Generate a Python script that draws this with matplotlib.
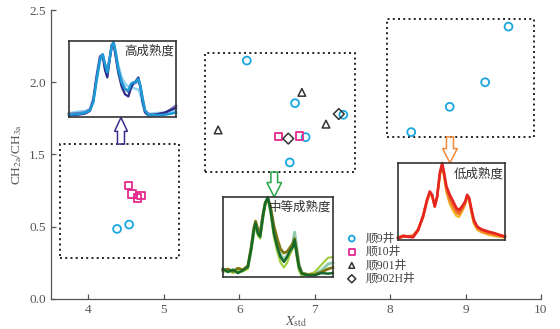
import numpy as np
import matplotlib
matplotlib.use("Agg")
import matplotlib.pyplot as plt
from matplotlib.patches import Rectangle, FancyArrow

plt.rcParams['font.family'] = ['Liberation Serif', 'Noto Sans CJK SC']
plt.rcParams['mathtext.fontset'] = 'stix'

# --- scatter data (X_std, CH2a/CH3a) ---
s9_x = [4.38, 4.54, 6.10, 6.74, 6.88, 6.67, 7.38, 8.28, 8.79, 9.26, 9.57]
s9_y = [0.485, 0.53, 2.15, 1.855, 1.62, 1.39, 1.775, 1.655, 1.83, 2.00, 2.385]
s10_x = [4.53, 4.58, 4.65, 4.70, 6.52, 6.80]
s10_y = [1.07, 0.955, 0.90, 0.93, 1.625, 1.63]
s901_x = [5.72, 6.83, 7.15]
s901_y = [1.67, 1.93, 1.71]
s902_x = [6.65, 7.32]
s902_y = [1.61, 1.78]

ytick_vals = [0.0, 0.5, 1.5, 2.0, 2.5]
ytick_labels = ['0.0', '0.5', '1.5', '2.0', '2.5']
xtick_vals = [4, 5, 6, 7, 8, 9, 10]

# --- inset spectra (normalised position, normalised intensity) ---
hi_x = [0, 0.087, 0.150, 0.196, 0.227, 0.259, 0.290, 0.315, 0.336, 0.358, 0.377, 0.399, 0.417, 0.436,
        0.461, 0.492, 0.523, 0.555, 0.579, 0.601, 0.623, 0.648, 0.667, 0.688, 0.710, 0.741, 0.804, 0.897, 1.0]
hi_blue = [0.03, 0.039, 0.057, 0.087, 0.196, 0.50, 0.761, 0.826, 0.696, 0.587, 0.739, 0.935, 0.991, 0.848,
           0.630, 0.457, 0.370, 0.348, 0.435, 0.457, 0.457, 0.50, 0.413, 0.239, 0.087, 0.030, 0.022, 0.030, 0.057]
hi_navy = [0.02, 0.03, 0.045, 0.08, 0.21, 0.52, 0.78, 0.80, 0.62, 0.52, 0.72, 0.95, 0.97, 0.80,
           0.58, 0.40, 0.30, 0.27, 0.38, 0.44, 0.47, 0.52, 0.40, 0.20, 0.06, 0.02, 0.03, 0.06, 0.12]
hi_purple = [0.04, 0.05, 0.06, 0.10, 0.24, 0.55, 0.80, 0.82, 0.68, 0.60, 0.75, 0.93, 0.97, 0.82,
             0.62, 0.46, 0.37, 0.33, 0.41, 0.44, 0.45, 0.48, 0.40, 0.24, 0.09, 0.04, 0.03, 0.05, 0.15]
hi_light = [0.05, 0.07, 0.08, 0.10, 0.20, 0.48, 0.74, 0.80, 0.70, 0.62, 0.74, 0.92, 0.96, 0.86,
            0.68, 0.52, 0.44, 0.40, 0.40, 0.38, 0.37, 0.36, 0.30, 0.17, 0.07, 0.04, 0.05, 0.06, 0.08]

mid_x = [0, 0.045, 0.091, 0.136, 0.182, 0.227, 0.258, 0.282, 0.297, 0.318, 0.339, 0.364, 0.385, 0.409, 0.433,
         0.464, 0.494, 0.524, 0.555, 0.585, 0.606, 0.636, 0.652, 0.670, 0.691, 0.718, 0.773, 0.833, 0.894, 0.955, 1.0]
mid_dark = [0.105, 0.063, 0.092, 0.050, 0.084, 0.126, 0.357, 0.588, 0.672, 0.546, 0.504, 0.756, 0.924, 1.0, 0.840,
            0.546, 0.378, 0.252, 0.189, 0.252, 0.315, 0.378, 0.462, 0.294, 0.126, 0.042, 0.021, 0.021, 0.050, 0.042, 0.050]
mid_olive = [0.08, 0.10, 0.07, 0.11, 0.09, 0.14, 0.38, 0.62, 0.70, 0.60, 0.55, 0.78, 0.93, 0.98, 0.88,
             0.64, 0.48, 0.35, 0.30, 0.32, 0.36, 0.42, 0.48, 0.34, 0.15, 0.05, 0.03, 0.03, 0.06, 0.10, 0.12]
mid_light = [0.06, 0.09, 0.05, 0.08, 0.07, 0.10, 0.33, 0.55, 0.63, 0.52, 0.48, 0.72, 0.90, 0.97, 0.80,
             0.50, 0.32, 0.18, 0.12, 0.18, 0.27, 0.36, 0.44, 0.26, 0.08, 0.01, 0.03, 0.06, 0.15, 0.24, 0.25]
mid_teal = [0.09, 0.07, 0.08, 0.06, 0.08, 0.12, 0.35, 0.57, 0.66, 0.55, 0.52, 0.76, 0.92, 0.99, 0.85,
            0.56, 0.40, 0.28, 0.22, 0.27, 0.33, 0.42, 0.56, 0.38, 0.16, 0.05, 0.03, 0.04, 0.08, 0.16, 0.18]

lo_x = [0, 0.047, 0.094, 0.141, 0.188, 0.234, 0.272, 0.297, 0.319, 0.344, 0.366, 0.391, 0.413, 0.431, 0.453,
        0.484, 0.516, 0.547, 0.572, 0.603, 0.628, 0.647, 0.666, 0.688, 0.709, 0.741, 0.781, 0.844, 0.906, 0.953, 1.0]
lo_red = [0.022, 0.052, 0.043, 0.035, 0.130, 0.304, 0.522, 0.630, 0.587, 0.435, 0.565, 0.870, 1.0, 0.870, 0.696,
          0.587, 0.500, 0.413, 0.391, 0.443, 0.500, 0.587, 0.543, 0.391, 0.261, 0.174, 0.139, 0.109, 0.087, 0.065, 0.043]
lo_orange = [0.03, 0.06, 0.05, 0.04, 0.12, 0.29, 0.50, 0.61, 0.57, 0.43, 0.55, 0.85, 0.97, 0.84, 0.64,
             0.50, 0.42, 0.35, 0.33, 0.40, 0.47, 0.57, 0.52, 0.36, 0.23, 0.15, 0.11, 0.08, 0.06, 0.05, 0.04]
lo_yellow = [0.04, 0.05, 0.04, 0.05, 0.13, 0.31, 0.52, 0.60, 0.56, 0.44, 0.56, 0.84, 0.95, 0.82, 0.62,
             0.47, 0.38, 0.31, 0.30, 0.38, 0.46, 0.56, 0.50, 0.34, 0.21, 0.13, 0.10, 0.07, 0.05, 0.04, 0.03]
lo_dark = [0.02, 0.04, 0.05, 0.06, 0.14, 0.32, 0.53, 0.62, 0.58, 0.44, 0.56, 0.86, 0.98, 0.86, 0.67,
           0.55, 0.46, 0.38, 0.35, 0.42, 0.48, 0.58, 0.53, 0.38, 0.25, 0.17, 0.13, 0.10, 0.08, 0.06, 0.05]


# the y axis in the original is squeezed between 0.5 and 1.5
def fwd(v):
    v = np.asarray(v, dtype=float)
    return np.where(v <= 0.5, v, np.where(v < 1.5, 0.5 + (v - 0.5) * 0.5, v - 0.5))


def inv(c):
    c = np.asarray(c, dtype=float)
    return np.where(c <= 0.5, c, np.where(c < 1.0, 0.5 + (c - 0.5) * 2, c + 0.5))


gray = '#555555'
fig, ax = plt.subplots(figsize=(5.6, 3.29), dpi=100)
fig.subplots_adjust(left=0.0905, right=0.966, bottom=0.0912, top=0.9696)

ax.set_yscale('function', functions=(fwd, inv))
ax.set_xlim(3.5, 10)
ax.set_ylim(0, 2.5)
ax.set_yticks(ytick_vals)
ax.set_yticklabels(ytick_labels)
ax.set_xticks(xtick_vals)
ax.yaxis.set_minor_locator(plt.NullLocator())
ax.tick_params(direction='in', colors=gray, labelsize=9.5, length=3.5, width=0.9)
for side in ['top', 'right']:
    ax.spines[side].set_visible(False)
for side in ['left', 'bottom']:
    ax.spines[side].set_color(gray)
    ax.spines[side].set_linewidth(0.9)

ax.set_ylabel(r'CH$_{\rm 2a}$/CH$_{\rm 3a}$', color=gray, fontsize=9.5, labelpad=4)
ax.set_xlabel(r'$X_{\rm std}$', color=gray, fontsize=10, labelpad=-1.5)

# dotted groups
rects = [(0.019, 0.143, 0.243, 0.392), (0.3147, 0.4405, 0.306, 0.4115), (0.6865, 0.5616, 0.2998, 0.4062)]
for r in rects:
    ax.add_patch(Rectangle((r[0], r[1]), r[2], r[3], transform=ax.transAxes, fill=False,
                           edgecolor='#222222', lw=1.4, linestyle=(0, (1, 1.7)), zorder=1))

# hollow arrows
ax.add_patch(FancyArrow(0.1434, 0.536, 0, 0.092, width=0.0143, head_width=0.0265, head_length=0.048,
                        length_includes_head=True, transform=ax.transAxes, fill=False,
                        edgecolor='#3b2f8c', lw=1.1))
ax.add_patch(FancyArrow(0.456, 0.439, 0, -0.086, width=0.0137, head_width=0.030, head_length=0.05,
                        length_includes_head=True, transform=ax.transAxes, fill=False,
                        edgecolor='#2aa64a', lw=1.1))
ax.add_patch(FancyArrow(0.8144, 0.5606, 0, -0.09, width=0.0143, head_width=0.030, head_length=0.05,
                        length_includes_head=True, transform=ax.transAxes, fill=False,
                        edgecolor='#f08a3a', lw=1.1))

# scatter points
ax.scatter(s9_x, s9_y, s=32, facecolors='none', edgecolors='#1aa7e0', linewidths=1.3, label='顺9井', zorder=3)
ax.scatter(s10_x, s10_y, s=30, marker='s', facecolors='none', edgecolors='#e5298f', linewidths=1.3,
           label='顺10井', zorder=3)
ax.scatter(s901_x, s901_y, s=30, marker='^', facecolors='none', edgecolors='#333333', linewidths=1.1,
           label='顺901井', zorder=3)
ax.scatter(s902_x, s902_y, s=30, marker='D', facecolors='none', edgecolors='#333333', linewidths=1.1,
           label='顺902H井', zorder=3)

leg = ax.legend(loc='upper left', bbox_to_anchor=(0.59, 0.25), frameon=False, fontsize=8.5, borderpad=0,
                handlelength=1.0, handletextpad=0.7, labelspacing=0.12, markerscale=0.75, scatterpoints=1)
for t in leg.get_texts():
    t.set_color('#444444')


def inset(rect, xs, curves, label, ty):
    a = fig.add_axes(rect)
    for ys, c, lw, al in curves:
        a.plot(xs, ys, color=c, lw=lw, alpha=al, solid_joinstyle='round')
    a.set_xlim(0, 1)
    a.set_ylim(0, 1.0)
    a.set_xticks([])
    a.set_yticks([])
    for sp in a.spines.values():
        sp.set_color('#333333')
        sp.set_linewidth(1.2)
    a.text(0.985, ty, label, transform=a.transAxes, ha='right', va='center', fontsize=9,
           color='#333333', family=['Noto Sans CJK SC', 'DejaVu Sans'])
    for l in a.lines:
        l.set_clip_on(False)
    return a


inset([0.1232, 0.6444, 0.1911, 0.231], hi_x,
      [(hi_light, '#8fd4f2', 1.8, 1), (hi_purple, '#7b72b8', 1.8, 1), (hi_navy, '#2d2a87', 1.6, 1),
       (hi_blue, '#1e9bd7', 1.8, 1)], '高成熟度', 0.87)
inset([0.398, 0.158, 0.1964, 0.243], mid_x,
      [(mid_teal, '#62b68c', 2.2, 0.7), (mid_light, '#a3cf45', 1.6, 1), (mid_olive, '#7d7712', 2.0, 1),
       (mid_dark, '#17692b', 1.8, 1)], '中等成熟度', 0.88)
inset([0.7107, 0.2705, 0.191, 0.234], lo_x,
      [(lo_yellow, '#f6b92c', 1.6, 1), (lo_orange, '#f28a2b', 1.6, 1), (lo_dark, '#ec6424', 1.6, 1),
       (lo_red, '#e52520', 1.9, 1)], '低成熟度', 0.85)

plt.savefig('out.png', dpi=100)
